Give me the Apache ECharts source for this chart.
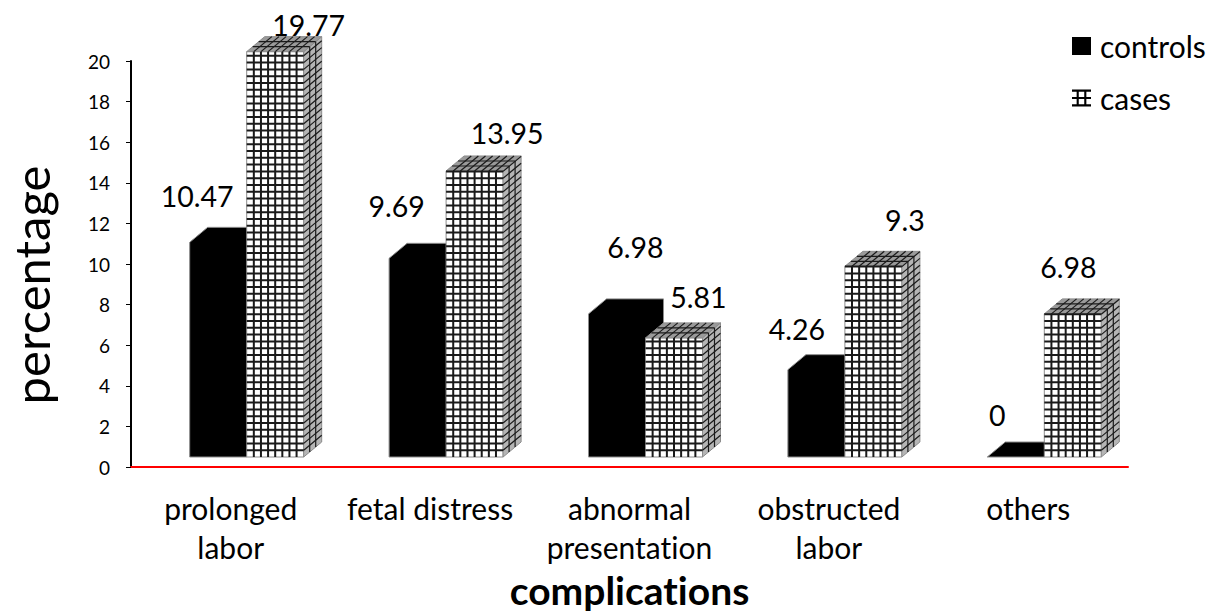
<!DOCTYPE html>
<html>
<head>
<meta charset="utf-8">
<style>
    html, body {margin: 0; padding: 0; background: #fff;}
    #chart {width: 1215px; height: 612px;}
    #chart text {font-variant-ligatures: none !important;}
</style>
<script src="https://cdn.jsdelivr.net/npm/echarts@6/dist/echarts.min.js"></script>
</head>
<body>
<div id="chart"></div>
<script>
var aCategories = ['prolonged\nlabor', 'fetal distress', 'abnormal\npresentation', 'obstructed\nlabor', 'others'];
var aControls = [10.47, 9.69, 6.98, 4.26, 0];
var aCases = [19.77, 13.95, 5.81, 9.3, 6.98];

// value labels sit at hand-placed spots in the original, offset from the bar front top
var aControlsLabelOffset = [[-49.5, -46], [-49.5, -52], [-10, -67], [-48, -41], [-47, -42]];
var aCasesLabelOffset = [[62, -27], [61, -38], [53, -41], [60, -46], [24, -47]];

var sFont = 'Lato, "Open Sans", sans-serif';
var iBarWidth = 57, iDepthX = 18, iDepthY = 15, iBaseLift = 10, iSplit = 16;
var sGridColor = '#1a1a1a';

function Line(x1, y1, x2, y2, iWidth) {
    return {
        type: 'line',
        shape: {x1: x1, y1: y1, x2: x2, y2: y2},
        style: {stroke: sGridColor, lineWidth: iWidth}
    };
}

function Face(aPoints, sColor) {
    return {
        type: 'polygon',
        shape: {points: aPoints},
        style: {fill: sColor, stroke: '#8c8c8c', lineWidth: 1}
    };
}

function ValueLabel(sText, x, y) {
    return {
        type: 'text',
        style: {
            text: sText, x: x, y: y, fill: '#000',
            font: '28.5px ' + sFont, align: 'center', verticalAlign: 'middle'
        }
    };
}

function RenderControls(params, api) {
    var i = api.value(0), fValue = api.value(1);
    var oTop = api.coord([i, fValue]), oZero = api.coord([i, 0]);
    var x1 = oTop[0] + iSplit, x0 = x1 - iBarWidth;
    var yBase = oZero[1] - iBaseLift;
    var yTop = yBase - (oZero[1] - oTop[1]) * 1.01;
    var aOffset = aControlsLabelOffset[i];
    return {
        type: 'group',
        children: [
            Face([[x0, yBase], [x0, yTop], [x0 + iDepthX, yTop - iDepthY], [x1 + iDepthX, yTop - iDepthY],
                [x1 + iDepthX, yBase - iDepthY], [x1, yBase]], '#000'),
            ValueLabel(String(fValue), x1 + aOffset[0], yTop + aOffset[1])
        ]
    };
}

function RenderCases(params, api) {
    var i = api.value(0), fValue = api.value(1);
    var oTop = api.coord([i, fValue]), oZero = api.coord([i, 0]);
    var x0 = oTop[0] + iSplit, x1 = x0 + iBarWidth;
    var yBase = oZero[1] - iBaseLift;
    var yTop = yBase - (oZero[1] - oTop[1]) * 1.01;
    var aChildren = [
        Face([[x0, yBase], [x0, yTop], [x1, yTop], [x1, yBase]], '#fff'),
        Face([[x1, yBase], [x1, yTop], [x1 + iDepthX, yTop - iDepthY], [x1 + iDepthX, yBase - iDepthY]], '#b5b5b5'),
        Face([[x0, yTop], [x0 + iDepthX, yTop - iDepthY], [x1 + iDepthX, yTop - iDepthY], [x1, yTop]], '#9a9a9a')
    ];
    var k, t, y;
    // front and top columns
    for (k = 1; k < 8; k++) {
        t = x0 + k * iBarWidth / 8;
        aChildren.push(Line(t, yBase, t, yTop, 2));
        aChildren.push(Line(t, yTop, t + iDepthX, yTop - iDepthY, 1.2));
    }
    // front and side rows
    for (y = yBase - 6.8; y > yTop; y -= 6.8) {
        aChildren.push(Line(x0, y, x1, y, 2));
        aChildren.push(Line(x1, y, x1 + iDepthX, y - iDepthY, 1.2));
    }
    // depth divisions on top and side
    for (k = 1; k < 3; k++) {
        var dx = k * iDepthX / 3, dy = k * iDepthY / 3;
        aChildren.push(Line(x0 + dx, yTop - dy, x1 + dx, yTop - dy, 1.2));
        aChildren.push(Line(x1 + dx, yTop - dy, x1 + dx, yBase - dy, 1.2));
    }
    var aOffset = aCasesLabelOffset[i];
    aChildren.push(ValueLabel(String(fValue), x0 + aOffset[0], yTop + aOffset[1]));
    return {type: 'group', children: aChildren};
}

function ToPoints(aValues) {
    var aPoints = [];
    for (var i = 0; i < aValues.length; i++) {
        aPoints.push([i, aValues[i]]);
    }
    return aPoints;
}

var sCasesIcon = 'path://M0 0H18V2H0Z M0 7H18V9H0Z M0 14H18V16H0Z M4.4 0H6.4V16H4.4Z M11.6 0H13.6V16H11.6Z';

var jOption = {
    animation: false,
    textStyle: {fontFamily: sFont},
    grid: {left: 131, right: 87, top: 61, bottom: 145, outerBoundsMode: 'none'},
    legend: {
        orient: 'vertical',
        left: 1067,
        top: 26,
        itemWidth: 19,
        itemHeight: 18,
        itemGap: 22,
        selectedMode: false,
        textStyle: {fontFamily: sFont, fontSize: 30, color: '#000', padding: [0, 0, 0, 4]},
        data: [
            {name: 'controls', icon: 'rect', itemStyle: {color: '#000'}},
            {name: 'cases', icon: sCasesIcon, itemStyle: {color: '#000'}}
        ]
    },
    xAxis: {
        type: 'category',
        data: aCategories,
        axisTick: {show: false},
        axisLine: {lineStyle: {color: '#ff0000', width: 2}},
        axisLabel: {color: '#000', fontSize: 30, lineHeight: 39, margin: 21, interval: 0, fontFamily: sFont},
        name: 'complications',
        nameLocation: 'middle',
        nameGap: 102,
        nameTextStyle: {fontSize: 39, fontWeight: 'bold', color: '#000', fontFamily: sFont}
    },
    yAxis: {
        type: 'value',
        min: 0,
        max: 20,
        interval: 2,
        splitLine: {show: false},
        axisLine: {show: true, lineStyle: {color: '#000', width: 2}},
        axisTick: {show: true, length: 5, lineStyle: {color: '#000'}},
        axisLabel: {color: '#000', fontSize: 19, margin: 21, fontFamily: sFont},
        name: 'percentage',
        nameLocation: 'middle',
        nameGap: 76,
        nameTextStyle: {fontSize: 49, color: '#000', fontFamily: sFont, padding: [0, 42, 0, 0]}
    },
    series: [
        {
            name: 'controls',
            type: 'custom',
            renderItem: RenderControls,
            itemStyle: {color: '#000'},
            encode: {x: 0, y: 1},
            data: ToPoints(aControls)
        },
        {
            name: 'cases',
            type: 'custom',
            renderItem: RenderCases,
            itemStyle: {color: '#000'},
            encode: {x: 0, y: 1},
            data: ToPoints(aCases)
        }
    ]
};

var oChart = echarts.init(document.getElementById('chart'), null, {renderer: 'svg'});
oChart.setOption(jOption);
</script>
</body>
</html>
